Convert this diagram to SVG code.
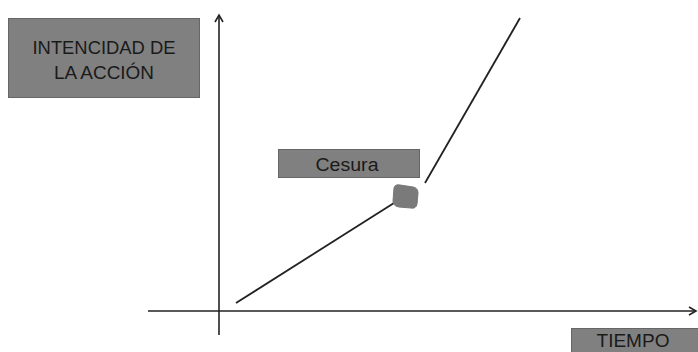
<svg xmlns="http://www.w3.org/2000/svg" width="698" height="352" viewBox="0 0 698 352">
<style>
.box{fill:#808080;stroke:#666;stroke-width:1}
.lbl{font-family:"Liberation Sans",Arial,sans-serif;font-size:18px;fill:#1a1a1a;text-anchor:middle}
.ax{stroke:#222;stroke-width:1.6;fill:none}
.ln{stroke:#222;stroke-width:1.8;fill:none}
</style>
<defs>
<marker id="ah" markerWidth="10" markerHeight="10" refX="8" refY="5" orient="auto" markerUnits="userSpaceOnUse">
<path d="M1,1 L8,5 L1,9" fill="none" stroke="#222" stroke-width="1.6"/>
</marker>
</defs>
<rect width="698" height="352" fill="#fff"/>
<g id="connectors">
<line class="ax" x1="219" y1="335" x2="219" y2="15" marker-end="url(#ah)"/>
<line class="ax" x1="148" y1="311" x2="696" y2="311" marker-end="url(#ah)"/>
<line class="ln" x1="236" y1="303" x2="394" y2="203"/>
<line class="ln" x1="425" y1="183" x2="520" y2="18"/>
</g>
<g id="intencidad">
<rect class="box" x="8.5" y="18.5" width="191" height="79"/>
<text class="lbl" x="104" y="54" textLength="143" lengthAdjust="spacingAndGlyphs">INTENCIDAD DE</text>
<text class="lbl" x="104" y="79" textLength="100" lengthAdjust="spacingAndGlyphs">LA ACCIÓN</text>
</g>
<g id="cesura">
<rect class="box" x="278.5" y="149.5" width="141" height="28"/>
<text class="lbl" x="347" y="171" textLength="63" lengthAdjust="spacingAndGlyphs">Cesura</text>
</g>
<g id="punto">
<path d="M394,188 Q395,184 400,185 L413,187 Q418,188 418,193 L417,204 Q416,209 411,208 L399,207 Q393,206 393,201 Z" fill="#7a7a7a" stroke="#777" stroke-width="1"/>
</g>
<g id="tiempo">
<rect class="box" x="571.5" y="328.5" width="130" height="26"/>
<text class="lbl" x="633" y="347" textLength="73" lengthAdjust="spacingAndGlyphs">TIEMPO</text>
</g>
</svg>
